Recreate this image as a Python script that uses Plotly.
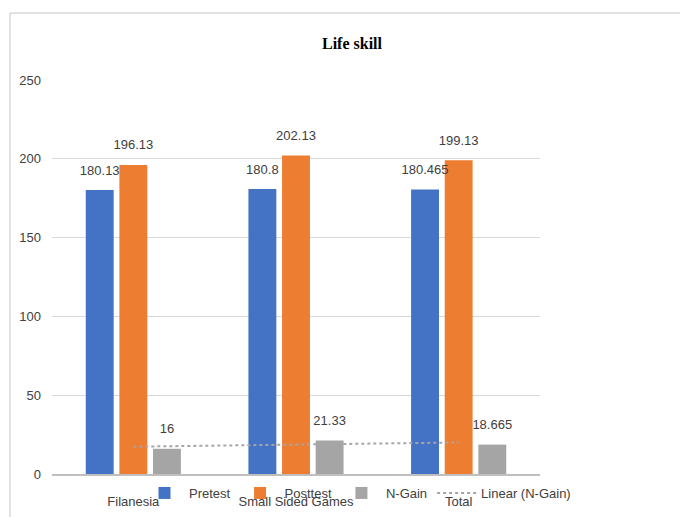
import plotly.graph_objects as go
import numpy as np

categories = ["Filanesia", "Small Sided Games", "Total"]
pretest = [180.13, 180.8, 180.465]
posttest = [196.13, 202.13, 199.13]
ngain = [16, 21.33, 18.665]
pretest_labels = ["180.13", "180.8", "180.465"]
posttest_labels = ["196.13", "202.13", "199.13"]
ngain_labels = ["16", "21.33", "18.665"]

# linear trendline of N-Gain (as the spreadsheet computes it)
xs = np.arange(1, len(ngain) + 1)
slope, intercept = np.polyfit(xs, ngain, 1)
trend = list(slope * xs + intercept)

FONT = "Liberation Sans Narrow, Arial Narrow, Liberation Sans, Arial, sans-serif"
TXT = "#404040"
FS = 13
GAP = 0.38

series = [("Pretest", pretest, pretest_labels, "#4472C4"),
          ("Posttest", posttest, posttest_labels, "#ED7D31"),
          ("N-Gain", ngain, ngain_labels, "#A5A5A5")]

fig = go.Figure()
for name, y, labels, color in series:
    fig.add_trace(go.Bar(name=name, x=categories, y=y, marker_color=color, marker_line_width=0,
                         offsetgroup=name, hoverinfo="x+y"))
# data labels (grouped scatter text, aligned to the bars)
for name, y, labels, color in series:
    fig.add_trace(go.Scatter(x=categories, y=y, text=labels, mode="markers+text",
                             textposition="top center", offsetgroup=name,
                             marker=dict(size=18, opacity=0), showlegend=False, hoverinfo="skip",
                             textfont=dict(family=FONT, size=FS, color=TXT), cliponaxis=False))
fig.add_trace(go.Scatter(name="Linear (N-Gain)", x=categories, y=trend, mode="lines", xaxis="x2",
                         line=dict(color="#A5A5A5", width=2, dash="dot")))

L, R, T, B = 52, 140, 80, 43
W, H = 680, 517
pw, ph = W - L - R, H - T - B

fig.update_layout(
    width=W, height=H,
    margin=dict(l=L, r=R, t=T, b=B, autoexpand=False),
    paper_bgcolor="white", plot_bgcolor="white",
    barmode="group", bargap=GAP, bargroupgap=0.17,
    scattermode="group", scattergap=GAP,
    font=dict(family=FONT, size=FS, color=TXT),
    title=dict(text="<b>Life skill</b>", x=352 / W, xanchor="center", y=1 - 43 / H, yanchor="middle",
               font=dict(family="Liberation Serif, Times New Roman, serif", size=16, color="black")),
    legend=dict(orientation="h", xref="container", x=140 / W, xanchor="left",
                yref="container", y=1 - 493 / H, yanchor="middle", itemwidth=39,
                bgcolor="rgba(0,0,0,0)",
                font=dict(family=FONT, size=FS, color=TXT), traceorder="normal"),
    showlegend=True,
    xaxis2=dict(overlaying="x", visible=False, range=[-0.5, 2.5],
                categoryorder="array", categoryarray=categories),
)
fig.update_yaxes(range=[0, 250], dtick=50, showgrid=True, gridcolor="#D9D9D9", gridwidth=1,
                 zeroline=False, showline=False, ticks="", ticklabelstandoff=10,
                 tickfont=dict(family=FONT, size=FS, color=TXT))
fig.update_layout(xaxis=dict(showline=True, linecolor="#BFBFBF", linewidth=1.5, ticks="", showgrid=False,
                             range=[-0.5, 2.5], ticklabelstandoff=15,
                             tickfont=dict(family=FONT, size=FS, color=TXT)))

# chart-area frame (top and left edges visible in the crop)
fx = (10 - L) / pw
fy = (474 - 13) / ph
fig.add_shape(type="line", xref="paper", yref="paper", x0=fx, x1=fx, y0=-0.2, y1=fy,
              line=dict(color="#D9D9D9", width=1.5))
fig.add_shape(type="line", xref="paper", yref="paper", x0=fx, x1=1.4, y0=fy, y1=fy,
              line=dict(color="#D9D9D9", width=1.5))

fig.write_html("out.html")
